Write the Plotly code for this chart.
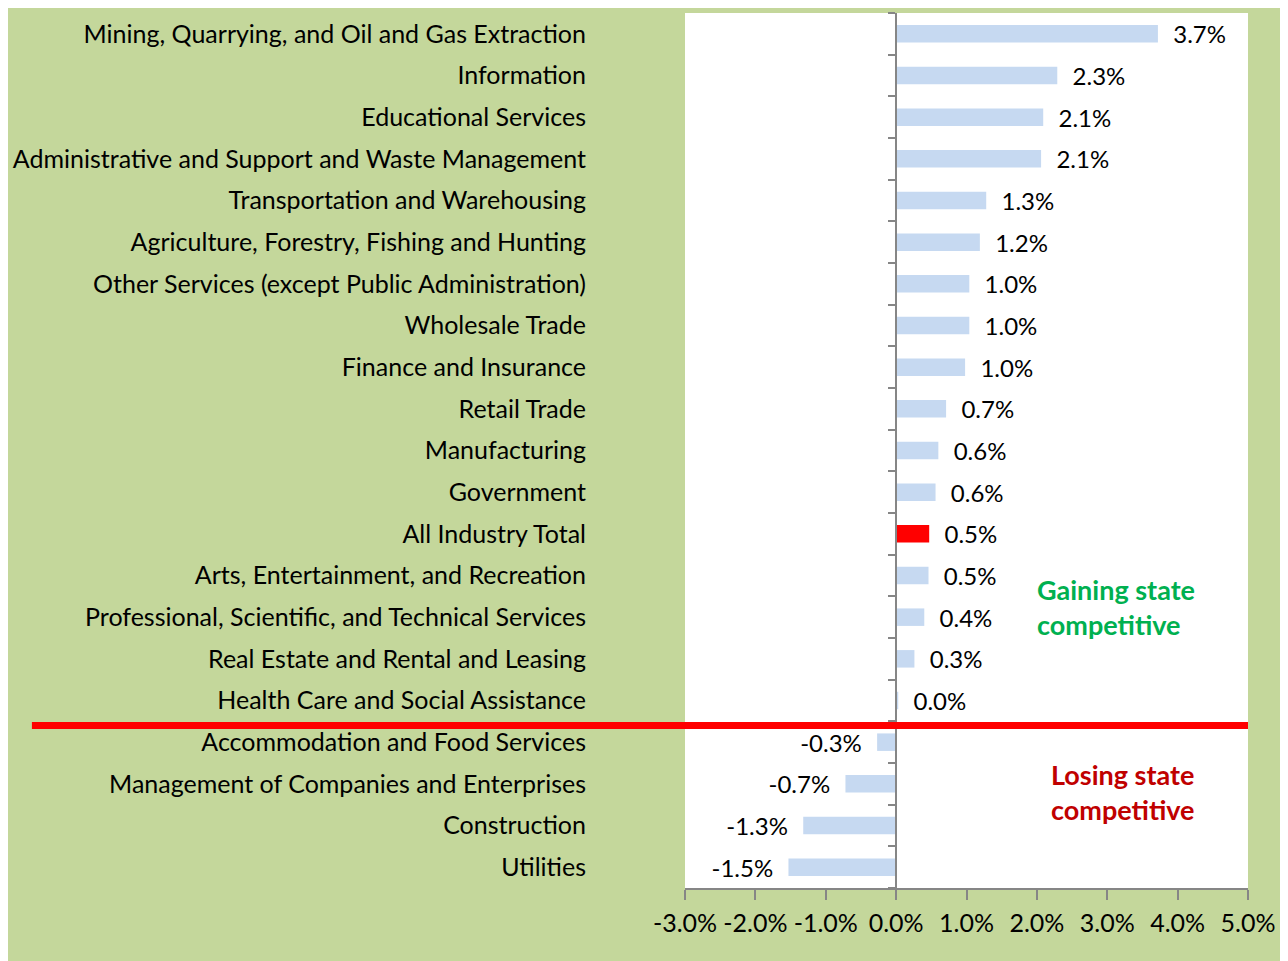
import plotly.graph_objects as go

# Change in competitive share by industry (top to bottom as shown)
industries = [
    "Mining, Quarrying, and Oil and Gas Extraction",
    "Information",
    "Educational Services",
    "Administrative and Support and Waste Management",
    "Transportation and Warehousing",
    "Agriculture, Forestry, Fishing and Hunting",
    "Other Services (except Public Administration)",
    "Wholesale Trade",
    "Finance and Insurance",
    "Retail Trade",
    "Manufacturing",
    "Government",
    "All Industry Total",
    "Arts, Entertainment, and Recreation",
    "Professional, Scientific, and Technical Services",
    "Real Estate and Rental and Leasing",
    "Health Care and Social Assistance",
    "Accommodation and Food Services",
    "Management of Companies and Enterprises",
    "Construction",
    "Utilities",
]
change = [
    0.0372, 0.0229, 0.0209, 0.0206, 0.0128, 0.0119, 0.0104, 0.0104,
    0.0098, 0.0071, 0.0060, 0.0056, 0.0047, 0.0046, 0.0040, 0.0026,
    0.0003, -0.0027, -0.0072, -0.0132, -0.0153,
]
highlight = "All Industry Total"
x_ticks = [-0.03, -0.02, -0.01, 0.0, 0.01, 0.02, 0.03, 0.04, 0.05]

FONT = "Lato"
BG = "#C4D79B"
AXIS = "#868686"

bar_colors = ["#FF0000" if name == highlight else "#C6D9F1" for name in industries]
pad = "\u00a0\u00a0"
labels = [pad + f"{v:.1%}" if v >= 0 else f"{v:.1%}" + pad for v in change]
tick_text = [f"{t:.1%}" for t in x_ticks]

fig = go.Figure()
fig.add_trace(go.Bar(
    y=industries,
    x=change,
    orientation="h",
    marker=dict(color=bar_colors, line=dict(width=0)),
    text=labels,
    textposition="outside",
    constraintext="none",
    textfont=dict(family=FONT, size=24, color="black"),
    cliponaxis=False,
    hoverinfo="skip",
))
# empty trace so the zero-crossing tick axis gets drawn
fig.add_trace(go.Scatter(x=[], y=[], yaxis="y2", showlegend=False))

n = len(industries)
fig.update_layout(
    width=1280,
    height=953,
    margin=dict(l=677, r=40, t=5, b=73),
    paper_bgcolor=BG,
    plot_bgcolor="white",
    showlegend=False,
    bargap=0.58,
    font=dict(family=FONT, size=25, color="black"),
    xaxis=dict(
        range=[x_ticks[0], x_ticks[-1]],
        tickvals=x_ticks,
        ticktext=tick_text,
        ticks="outside",
        ticklen=10,
        tickcolor=AXIS,
        tickwidth=2,
        ticklabelstandoff=2,
        showline=True,
        linecolor=AXIS,
        linewidth=2,
        showgrid=False,
        zeroline=False,
        tickfont=dict(family=FONT, size=25),
    ),
    yaxis=dict(
        type="category",
        categoryorder="array",
        categoryarray=industries,
        range=[n - 0.5, -0.5],
        showgrid=False,
        showline=False,
        ticks="",
        ticklabelstandoff=98,
        tickfont=dict(family=FONT, size=25),
    ),
    yaxis2=dict(
        overlaying="y",
        anchor="free",
        position=3 / 8,
        range=[n - 0.5, -0.5],
        tickvals=[i - 0.5 for i in range(n + 1)],
        ticks="outside",
        ticklen=7,
        tickwidth=2,
        tickcolor=AXIS,
        showticklabels=False,
        showline=True,
        linecolor=AXIS,
        linewidth=2,
        showgrid=False,
        zeroline=False,
    ),
    shapes=[dict(
        type="line",
        xref="paper", yref="y",
        x0=-1.16, x1=1.0,
        y0=16.6, y1=16.6,
        line=dict(color="#FF0000", width=7),
        layer="above",
    )],
    annotations=[
        dict(
            text="Gaining state<br>competitive",
            x=0.0198, y=13.75, xref="x", yref="y",
            xanchor="left", yanchor="middle", align="left",
            showarrow=False,
            font=dict(family=FONT, size=27, color="#00B050", weight="bold"),
        ),
        dict(
            text="Losing state<br>competitive",
            x=0.0217, y=18.2, xref="x", yref="y",
            xanchor="left", yanchor="middle", align="left",
            showarrow=False,
            font=dict(family=FONT, size=27, color="#C00000", weight="bold"),
        ),
    ],
)

fig.write_html("out.html")
